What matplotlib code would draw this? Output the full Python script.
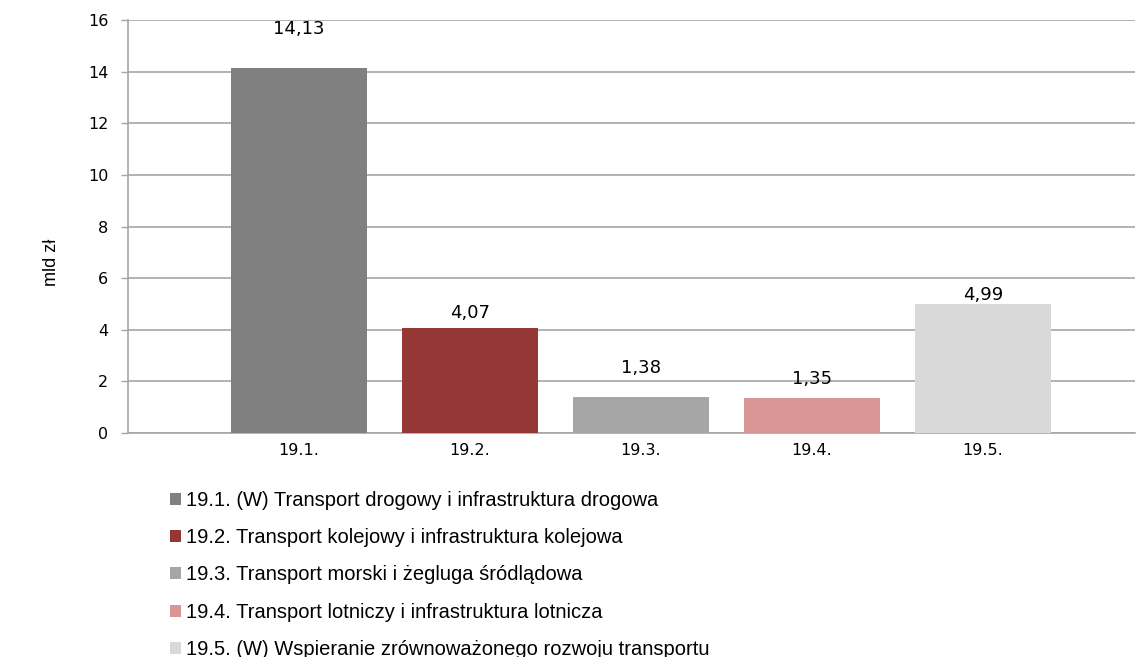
import numpy as np
import matplotlib
matplotlib.use("Agg")
import matplotlib.pyplot as plt
from matplotlib.patches import Patch

# data
categories = ["19.1.", "19.2.", "19.3.", "19.4.", "19.5."]
values = [14.13, 4.07, 1.38, 1.35, 4.99]
value_labels = ["14,13", "4,07", "1,38", "1,35", "4,99"]
legend_labels = [
    "19.1. (W) Transport drogowy i infrastruktura drogowa",
    "19.2. Transport kolejowy i infrastruktura kolejowa",
    "19.3. Transport morski i żegluga śródlądowa",
    "19.4. Transport lotniczy i infrastruktura lotnicza",
    "19.5. (W) Wspieranie zrównoważonego rozwoju transportu",
]
yticks = [0, 2, 4, 6, 8, 10, 12, 14, 16]

colors = ["#808080", "#953735", "#a6a6a6", "#d99694", "#d9d9d9"]
label_gap = [1.52, 0.58, 1.14, 0.74, 0.36]  # Excel-style label placement
GRID = "#a6a6a6"

fig = plt.figure(figsize=(11.4, 6.57), dpi=100)
fig.patch.set_facecolor("white")
ax = fig.add_axes([0.112, 0.341, 0.8836, 0.6285])

x = np.arange(1, len(categories) + 1)
ax.bar(x, values, width=0.795, color=colors, zorder=3)
for xi, v, lab, g in zip(x, values, value_labels, label_gap):
    ax.text(xi, v + g, lab, ha="center", va="center", fontsize=13,
            family="DejaVu Sans", color="#000000", zorder=4)

ax.set_xlim(0, 5.89)
ax.set_ylim(0, 16)
ax.set_yticks(yticks)
ax.set_yticklabels([str(t) for t in yticks], fontsize=11.5)
ax.set_xticks(x)
ax.set_xticklabels(categories, fontsize=11.5)
ax.tick_params(axis="x", length=0, pad=7)
ax.tick_params(axis="y", length=5, color=GRID, width=1, pad=9)
ax.yaxis.grid(True, color=GRID, linewidth=1.2, zorder=0)
ax.set_axisbelow(True)
for s in ["top", "right"]:
    ax.spines[s].set_visible(False)
for s in ["left", "bottom"]:
    ax.spines[s].set_color(GRID)
    ax.spines[s].set_linewidth(1.2)

fig.text(0.045, 0.60, "mld zł", rotation=90, ha="center", va="center",
         fontsize=13, family="Liberation Sans")

handles = [Patch(facecolor=c, edgecolor="none", label=l)
           for c, l in zip(colors, legend_labels)]
fig.legend(handles=handles, loc="upper left", bbox_to_anchor=(0.149, 0.253),
           frameon=False, prop={"family": "Liberation Sans", "size": 14.5},
           handlelength=0.55, handleheight=0.55, handletextpad=0.25,
           labelspacing=0.91, borderaxespad=0, borderpad=0)

fig.savefig("out.png", dpi=100, facecolor="white")
